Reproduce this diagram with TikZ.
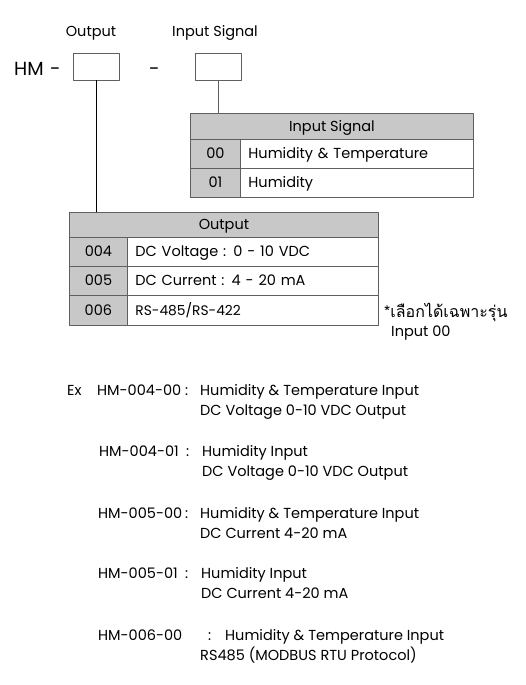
\documentclass[tikz,border=0pt]{standalone}
\usepackage{fontspec}
\setmainfont{Poppins}
\newfontfamily\thaifont[Script=Thai]{Loma}
\usetikzlibrary{positioning}
\definecolor{cellgray}{RGB}{200,200,200}
\definecolor{edgegray}{RGB}{95,95,95}

\begin{document}
\begin{tikzpicture}[x=1pt, y=-1pt, line cap=round, line join=round,
  font=\fontsize{14.5}{16}\selectfont,
  codebox/.style={draw=edgegray, line width=0.9pt, minimum width=46pt, minimum height=27pt, inner sep=0pt},
  hdrcell/.style={draw=edgegray, fill=cellgray, line width=0.9pt, minimum height=26pt, inner sep=0pt, anchor=north west, text height=10pt, text depth=0pt},
  keycell/.style={draw=edgegray, fill=cellgray, line width=0.9pt, minimum height=29pt, inner sep=0pt, anchor=north west, text height=10pt, text depth=0pt},
  textcell/.style={draw=edgegray, line width=0.9pt, minimum height=29pt, inner sep=0pt, anchor=north west, align=left, text height=10pt, text depth=0pt},
  exline/.style={anchor=base west, inner sep=0pt}]
\useasboundingbox (0,0) rectangle (525,685);

% code line
\node[anchor=base west, inner sep=0pt] (hmlbl) at (14,75) {\fontsize{19}{21}\selectfont HM};
\node[anchor=base west, inner sep=0pt] (dash1) at (50,75) {\fontsize{19}{21}\selectfont -};
\node[codebox] (outbox) at (96,66.5) {};
\node[anchor=base west, inner sep=0pt] (dash2) at (149,75) {\fontsize{19}{21}\selectfont -};
\node[codebox] (inbox) at (218,66.5) {};
\node[anchor=base] (outlbl) at ([xshift=-5pt, yshift=16pt]outbox.north) {Output};
\node[anchor=base] (inlbl) at ([xshift=-3pt, yshift=16pt]inbox.north) {Input Signal};

% input signal table
\node[hdrcell, minimum width=283pt] (inhdr) at (190,113) {Input Signal};
\node[keycell, minimum width=50pt] (in00) at (190,139) {00};
\node[textcell, minimum width=233pt, text width=217pt] (in00t) at (240,139) {Humidity \& Temperature};
\node[keycell, minimum width=50pt] (in01) at (190,168) {01};
\node[textcell, minimum width=233pt, text width=217pt] (in01t) at (240,168) {Humidity};

% output table
\node[hdrcell, minimum width=309pt, minimum height=25pt] (outhdr) at (69,212) {Output};
\node[keycell, minimum width=58pt] (out004) at (69,237) {004};
\node[textcell, minimum width=251pt, text width=235pt] (out004t) at (127,237) {DC Voltage : 0 - 10 VDC};
\node[keycell, minimum width=58pt] (out005) at (69,266) {005};
\node[textcell, minimum width=251pt, text width=235pt] (out005t) at (127,266) {DC Current : 4 - 20 mA};
\node[keycell, minimum width=58pt, minimum height=30pt] (out006) at (69,295) {006};
\node[textcell, minimum width=251pt, minimum height=30pt, text width=235pt] (out006t) at (127,295) {\fontsize{13.8}{15}\selectfont RS-485/RS-422};

\draw[edgegray, line width=0.9pt] (inbox.south) -- (inbox.south |- inhdr.north);
\draw[black, line width=0.9pt] (outbox.south) -- (outbox.south |- outhdr.north);

% note
\node[exline] (note) at (384,317) {\thaifont\fontsize{16}{18}\selectfont *เลือกได้เฉพาะรุ่น};
\node[exline] (notein) at (391,336) {Input 00};

% examples
\node[exline] (ex1e) at (67,395) {Ex};
\node[exline] (ex1) at (97,395) {HM-004-00};
\node[exline] (ex1c) at (185,395) {:};
\node[exline] (ex1a) at (200,395) {Humidity \& Temperature Input};
\node[exline] (ex1b) at (200,415) {DC Voltage 0-10 VDC Output};

\node[exline] (ex2) at (99,456) {HM-004-01};
\node[exline] (ex2c) at (186,456) {:};
\node[exline] (ex2a) at (202,456) {Humidity Input};
\node[exline] (ex2b) at (202,476) {DC Voltage 0-10 VDC Output};

\node[exline] (ex3) at (98,518) {HM-005-00};
\node[exline] (ex3c) at (185,518) {:};
\node[exline] (ex3a) at (200,518) {Humidity \& Temperature Input};
\node[exline] (ex3b) at (200,538) {DC Current 4-20 mA};

\node[exline] (ex4) at (98,578) {HM-005-01};
\node[exline] (ex4c) at (185,578) {:};
\node[exline] (ex4a) at (201,578) {Humidity Input};
\node[exline] (ex4b) at (201,598) {DC Current 4-20 mA};

\node[exline] (ex5) at (98,640) {HM-006-00};
\node[exline] (ex5c) at (208,640) {:};
\node[exline] (ex5a) at (225,640) {Humidity \& Temperature Input};
\node[exline] (ex5b) at (200,660) {RS485 (MODBUS RTU Protocol)};

\end{tikzpicture}
\end{document}
